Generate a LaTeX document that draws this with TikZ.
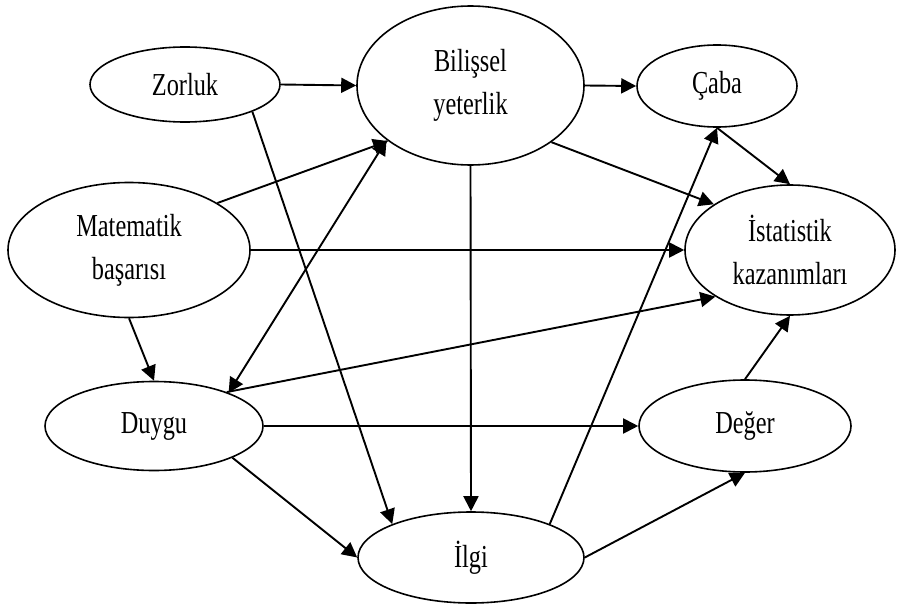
\documentclass[tikz,border=0pt]{standalone}
\usepackage{fontspec}
\newfontfamily\lblfont[FakeStretch=0.76]{Liberation Serif}
\usetikzlibrary{shapes.geometric,arrows.meta}
\tikzset{
  var/.style={draw, ellipse, line width=1.6pt, inner sep=0pt, align=center,
    font=\lblfont\fontsize{32}{43}\selectfont},
  arr/.style={line width=1.9pt, -{Triangle[length=15pt,width=15pt]}},
  barr/.style={line width=1.9pt, {Triangle[length=15pt,width=15pt]}-{Triangle[length=15pt,width=15pt]}}
}
\begin{document}
\begin{tikzpicture}[x=1pt,y=-1pt]
\useasboundingbox (0,0) rectangle (897,607);
\node[var, minimum width=190pt, minimum height=75pt] (zor) at (185,84.5) {Zorluk};
\node[var, minimum width=227pt, minimum height=159pt] (bil) at (470.5,85.5) {\raisebox{0pt}{Bilişsel}\\yeterlik};
\node[var, minimum width=160pt, minimum height=82pt] (cab) at (717,86) {Çaba};
\node[var, minimum width=242pt, minimum height=135pt] (mat) at (129,250) {Matematik\\başarısı};
\node[var, minimum width=210pt, minimum height=130pt] (ist) at (790,250) {İstatistik\\kazanımları};
\node[var, minimum width=218pt, minimum height=89pt] (duy) at (154,426) {Duygu};
\node[var, minimum width=212pt, minimum height=92pt] (deg) at (745,426) {Değer};
\node[var, minimum width=226pt, minimum height=91pt] (ilg) at (471,557.5) {İlgi};

\draw[arr] (zor.east) -- (bil.west);
\draw[arr] (zor.-22) -- (ilg.157);
\draw[arr] (mat.28.6) -- (bil.214.4);
\draw[arr] (mat.east) -- (ist.west);
\draw[arr] (mat.south) -- (duy.north);
\draw[barr] (duy.24.5) -- (bil.213.8);
\draw[arr] (duy.25.5) -- (ist.212);
\draw[arr] (duy.east) -- (deg.west);
\draw[arr] (duy.-22) -- (ilg.west);
\draw[arr] (bil.south) -- (ilg.north);
\draw[arr] (bil.east) -- (cab.west);
\draw[arr] (bil.-35.2) -- (ist.149.4);
\draw[arr] (cab.south) -- (ist.north);
\draw[arr] (ilg.23.7) -- (cab.south);
\draw[arr] (ilg.east) -- (deg.south);
\draw[arr] (deg.north) -- (ist.south);
\end{tikzpicture}
\end{document}
